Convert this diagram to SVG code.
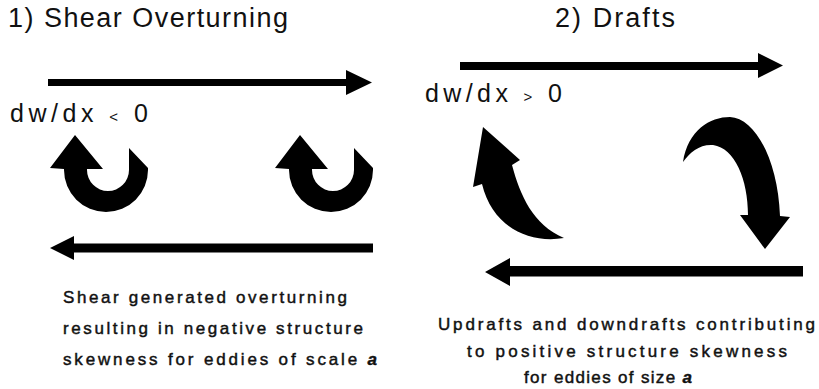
<svg xmlns="http://www.w3.org/2000/svg" width="819" height="389" viewBox="0 0 819 389">
  <style>
    .title { font-family: "Liberation Sans", Arial, sans-serif; font-size: 27px; fill: #111; }
    .grad { font-family: "Liberation Sans", Arial, sans-serif; font-size: 25px; fill: #111; }
    .rel { font-size: 15px; }
    .cap { font-family: "Liberation Sans", Arial, sans-serif; font-size: 17px; fill: #111; stroke: #111; stroke-width: 0.45px; }
    .sym { font-style: italic; font-weight: bold; }
    .ink { fill: #000; stroke: none; }
  </style>
  <defs>
    <!-- overturning eddy: up-pointing head on the left, U-shaped body, slanted tail on the right -->
    <path id="curl" d="M50,168 L75,135 L103,169 L87,169 L87,170 A21,21 0 0 0 129,170 L129,148 L148,168 L148,170 A42,42 0 0 1 64,170 L64,169 Z"/>
  </defs>

  <rect width="819" height="389" fill="#fff"/>

  <!-- Panel 1: shear overturning -->
  <g id="panel-shear">
    <text class="title" x="8" y="27" textLength="280" lengthAdjust="spacing">1) Shear Overturning</text>
    <text class="grad" x="10" y="122" textLength="138" lengthAdjust="spacing">dw/dx <tspan class="rel">&lt;</tspan> 0</text>
    <g id="flows-shear">
      <path id="shear-top-flow" class="ink" d="M48,79 H346 V70 L372,82.5 L346,95 V86 H48 Z"/>
      <path id="shear-bottom-flow" class="ink" d="M50,248 L74,236 V243.5 H373 V252.5 H74 V260 Z"/>
    </g>
    <g id="eddy-left"><use href="#curl" class="ink"/></g>
    <g id="eddy-right"><use href="#curl" class="ink" transform="translate(225,0)"/></g>
    <g id="caption-shear" class="cap">
      <text x="63" y="303" textLength="284" lengthAdjust="spacing">Shear generated overturning</text>
      <text x="63" y="334" textLength="300" lengthAdjust="spacing">resulting in negative structure</text>
      <text x="63" y="365" textLength="314" lengthAdjust="spacing">skewness for eddies of scale <tspan class="sym">a</tspan></text>
    </g>
  </g>

  <!-- Panel 2: drafts -->
  <g id="panel-drafts">
    <text class="title" x="555" y="27" textLength="120" lengthAdjust="spacing">2) Drafts</text>
    <text class="grad" x="425" y="102" textLength="137" lengthAdjust="spacing">dw/dx <tspan class="rel">&gt;</tspan> 0</text>
    <g id="flows-drafts">
      <path id="drafts-top-flow" class="ink" d="M460,62 H758 V53 L783,65.5 L758,78 V70 H460 Z"/>
      <path id="drafts-bottom-flow" class="ink" d="M485,272 L510,258 V266 H803 V276.5 H510 V286 Z"/>
    </g>
    <path id="updraft" class="ink" d="M483,127 L520,160 L512,165 C520,195 533,225 564,238 C528,244 492,226 482,184 L473,187 Z"/>
    <path id="downdraft" class="ink" d="M683,162 C688,130 710,117 730,117 C755,118 778,160 780,216 L790,217 L765,249 L740,215 L748,215 C748,180 735,148 713,145 C700,144 690,152 683,162 Z"/>
    <g id="caption-drafts" class="cap">
      <text x="438" y="330" textLength="377" lengthAdjust="spacing">Updrafts and downdrafts contributing</text>
      <text x="467" y="357" textLength="320" lengthAdjust="spacing">to positive structure skewness</text>
      <text x="524" y="383" textLength="168" lengthAdjust="spacing">for eddies of size <tspan class="sym">a</tspan></text>
    </g>
  </g>
</svg>
